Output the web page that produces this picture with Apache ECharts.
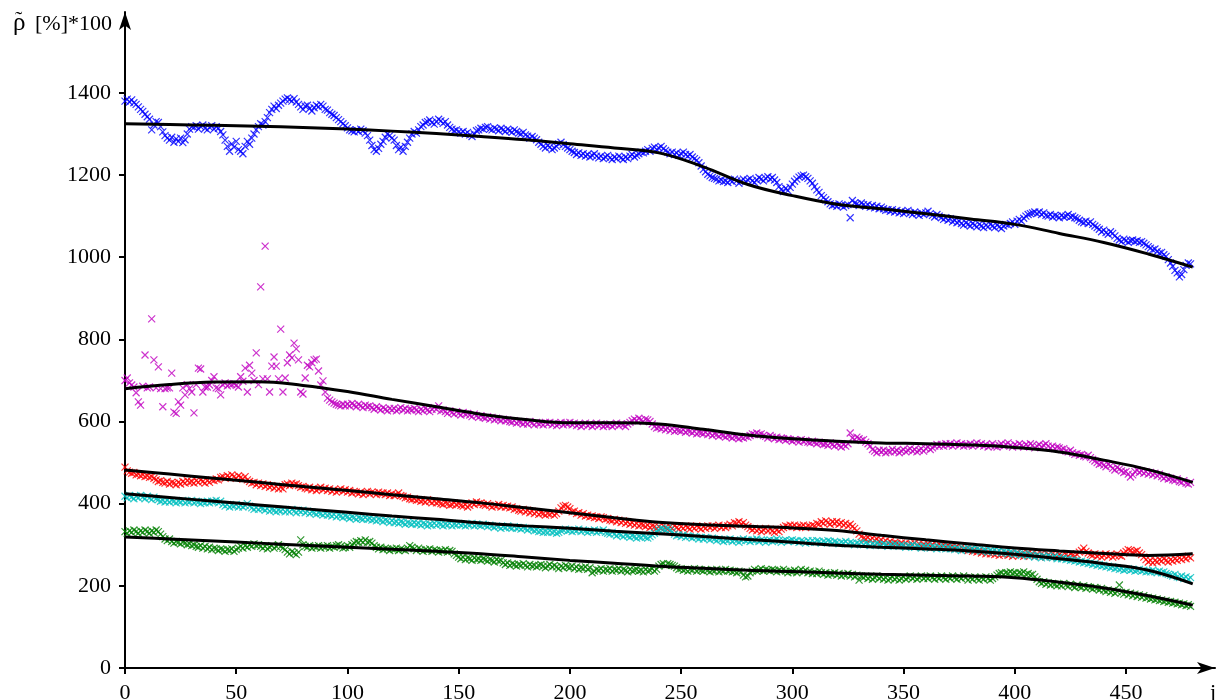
<!DOCTYPE html>
<html>
<head>
<meta charset="utf-8">
<script src="https://cdn.jsdelivr.net/npm/echarts@6/dist/echarts.min.js"></script>
<style>
html, body { margin: 0; padding: 0; background: #fff; }
#chart { width: 1219px; height: 700px; }
</style>
</head>
<body>
<div id="chart"></div>
<script>
// one value per j = 0..479
const blueVals = [
	1380, 1385, 1378, 1383, 1376, 1372, 1366, 1360, 1355, 1348,
	1342, 1336, 1310, 1322, 1330, 1328, 1318, 1305, 1296, 1290,
	1285, 1292, 1280, 1288, 1282, 1290, 1279, 1286, 1300, 1312,
	1318, 1316, 1320, 1312, 1318, 1322, 1314, 1310, 1316, 1320,
	1312, 1318, 1314, 1306, 1298, 1285, 1270, 1258, 1276, 1268,
	1282, 1262, 1258, 1252, 1270, 1282, 1275, 1290, 1300, 1310,
	1318, 1325, 1322, 1330, 1340, 1352, 1360, 1368, 1362, 1370,
	1375, 1380, 1385, 1388, 1384, 1380, 1386, 1378, 1372, 1366,
	1360, 1368, 1370, 1362, 1356, 1364, 1370, 1366, 1372, 1368,
	1360, 1358, 1352, 1348, 1345, 1340, 1335, 1330, 1325, 1320,
	1315, 1310, 1308, 1305, 1310, 1306, 1312, 1308, 1302, 1296,
	1285, 1272, 1262, 1258, 1265, 1275, 1282, 1292, 1300, 1296,
	1290, 1285, 1272, 1262, 1268, 1258, 1270, 1280, 1290, 1300,
	1306, 1302, 1310, 1318, 1322, 1328, 1330, 1334, 1328, 1324,
	1330, 1336, 1332, 1326, 1330, 1322, 1316, 1312, 1308, 1310,
	1305, 1302, 1306, 1300, 1304, 1298, 1294, 1300, 1308, 1310,
	1314, 1312, 1316, 1318, 1312, 1310, 1315, 1312, 1308, 1314,
	1310, 1306, 1312, 1308, 1304, 1310, 1306, 1302, 1300, 1304,
	1298, 1295, 1290, 1294, 1290, 1286, 1280, 1275, 1270, 1266,
	1272, 1268, 1262, 1266, 1270, 1276, 1280, 1274, 1270, 1266,
	1262, 1258, 1255, 1250, 1254, 1248, 1252, 1246, 1250, 1244,
	1248, 1252, 1246, 1242, 1246, 1240, 1244, 1248, 1242, 1238,
	1244, 1240, 1246, 1242, 1238, 1244, 1240, 1246, 1250, 1244,
	1248, 1252, 1256, 1254, 1258, 1262, 1258, 1265, 1268, 1262,
	1266, 1270, 1264, 1260, 1256, 1252, 1256, 1250, 1254, 1248,
	1252, 1256, 1250, 1246, 1250, 1244, 1240, 1236, 1230, 1222,
	1214, 1208, 1202, 1198, 1194, 1192, 1190, 1186, 1188, 1184,
	1186, 1182, 1188, 1184, 1190, 1186, 1180, 1186, 1190, 1184,
	1188, 1192, 1186, 1182, 1188, 1194, 1190, 1186, 1192, 1196,
	1190, 1194, 1188, 1182, 1172, 1165, 1160, 1168, 1162, 1170,
	1178, 1185, 1190, 1195, 1198, 1200, 1196, 1192, 1186, 1180,
	1172, 1164, 1158, 1150, 1145, 1140, 1135, 1130, 1126, 1128,
	1124, 1130, 1126, 1122, 1126, 1128, 1096, 1138, 1132, 1130,
	1126, 1132, 1128, 1124, 1128, 1122, 1126, 1120, 1124, 1118,
	1122, 1118, 1114, 1116, 1112, 1116, 1110, 1114, 1108, 1112,
	1106, 1110, 1114, 1108, 1104, 1110, 1106, 1102, 1108, 1104,
	1108, 1112, 1106, 1102, 1098, 1104, 1100, 1096, 1092, 1096,
	1090, 1094, 1086, 1090, 1084, 1088, 1082, 1078, 1084, 1080,
	1076, 1082, 1078, 1074, 1080, 1076, 1072, 1078, 1074, 1080,
	1076, 1072, 1078, 1074, 1070, 1076, 1080, 1078, 1082, 1086,
	1080, 1088, 1092, 1088, 1095, 1100, 1104, 1106, 1108, 1110,
	1106, 1110, 1104, 1108, 1102, 1100, 1104, 1098, 1102, 1100,
	1096, 1102, 1098, 1100, 1104, 1098, 1100, 1096, 1094, 1090,
	1086, 1084, 1088, 1082, 1086, 1080, 1076, 1072, 1068, 1062,
	1066, 1060, 1056, 1062, 1058, 1052, 1046, 1042, 1038, 1044,
	1040, 1036, 1040, 1042, 1038, 1040, 1036, 1038, 1034, 1030,
	1026, 1022, 1018, 1020, 1014, 1010, 1012, 1006, 1002, 994,
	986, 978, 968, 962, 952, 958, 970, 980, 986, 984
];

const magentaVals = [
	700, 706, 694, 689, 684, 670, 648, 640, 686, 762,
	682, 684, 850, 750, 682, 733, 680, 636, 680, 682,
	682, 718, 623, 620, 648, 640, 682, 665, 690, 680,
	672, 621, 690, 730, 728, 672, 684, 684, 689, 700,
	709, 682, 680, 665, 689, 694, 687, 691, 690, 692,
	688, 684, 709, 698, 730, 672, 737, 718, 700, 767,
	690, 928, 704, 1027, 704, 672, 735, 757, 735, 704,
	825, 672, 706, 743, 762, 755, 791, 777, 750, 672,
	667, 706, 737, 733, 743, 750, 752, 723, 689, 699,
	672, 657, 652, 648, 645, 642, 640, 638, 642, 638,
	642, 638, 644, 640, 636, 642, 638, 634, 640, 636,
	638, 634, 630, 636, 632, 628, 634, 630, 626, 632,
	628, 632, 626, 630, 634, 628, 632, 626, 630, 628,
	632, 628, 624, 630, 626, 632, 628, 624, 630, 634,
	630, 638, 626, 628, 624, 620, 626, 622, 618, 624,
	620, 616, 622, 618, 620, 616, 612, 618, 614, 610,
	614, 610, 608, 612, 606, 610, 604, 608, 606, 602,
	606, 602, 604, 600, 598, 602, 596, 600, 598, 594,
	598, 594, 600, 596, 592, 598, 594, 596, 592, 598,
	594, 598, 592, 596, 590, 594, 598, 592, 596, 594,
	598, 592, 596, 590, 594, 588, 592, 596, 590, 594,
	588, 592, 596, 590, 594, 588, 592, 590, 594, 588,
	592, 596, 590, 594, 592, 588, 594, 598, 602, 606,
	602, 608, 604, 600, 606, 604, 600, 594, 588, 584,
	586, 582, 586, 580, 584, 578, 582, 576, 580, 578,
	576, 580, 574, 578, 576, 572, 576, 570, 574, 572,
	570, 574, 568, 572, 566, 570, 568, 564, 568, 566,
	562, 566, 564, 560, 564, 562, 558, 562, 560, 564,
	562, 566, 570, 568, 572, 568, 570, 566, 564, 560,
	566, 562, 558, 562, 556, 560, 558, 554, 558, 556,
	552, 556, 554, 550, 556, 552, 554, 550, 548, 552,
	550, 546, 550, 548, 544, 546, 542, 548, 544, 540,
	546, 542, 538, 544, 540, 546, 572, 560, 556, 562,
	558, 554, 556, 550, 546, 540, 532, 528, 524, 530,
	526, 530, 524, 528, 526, 532, 526, 530, 524, 528,
	532, 526, 530, 534, 528, 532, 526, 530, 534, 528,
	534, 538, 532, 536, 540, 544, 540, 544, 540, 546,
	542, 546, 540, 544, 548, 542, 546, 540, 544, 542,
	546, 540, 544, 548, 542, 546, 540, 544, 538, 542,
	546, 540, 538, 542, 546, 540, 544, 548, 542, 538,
	544, 540, 546, 542, 538, 544, 540, 546, 542, 536,
	540, 544, 538, 542, 546, 540, 536, 540, 534, 538,
	536, 532, 534, 528, 526, 530, 524, 520, 522, 518,
	520, 516, 514, 518, 512, 508, 504, 500, 496, 498,
	494, 490, 496, 492, 486, 482, 488, 484, 480, 476,
	478, 472, 465, 470, 478, 482, 476, 480, 474, 478,
	472, 476, 470, 474, 468, 472, 466, 462, 466, 460,
	462, 458, 456, 460, 454, 452, 456, 450, 448, 452
];

const redVals = [
	489, 480, 477, 474, 476, 470, 472, 468, 470, 466,
	468, 464, 466, 462, 458, 454, 456, 452, 450, 454,
	448, 452, 450, 446, 452, 448, 454, 450, 456, 452,
	454, 450, 456, 452, 458, 454, 450, 456, 452, 458,
	456, 460, 458, 464, 466, 462, 468, 464, 470, 466,
	462, 468, 464, 460, 466, 458, 454, 450, 452, 446,
	450, 444, 448, 442, 446, 440, 444, 438, 442, 436,
	440, 436, 446, 448, 444, 450, 446, 448, 444, 440,
	442, 438, 436, 440, 434, 438, 432, 436, 440, 434,
	438, 432, 436, 430, 434, 428, 432, 436, 430, 434,
	428, 432, 426, 430, 428, 424, 428, 422, 426, 430,
	424, 428, 426, 422, 428, 424, 426, 422, 426, 420,
	424, 420, 422, 426, 420, 418, 414, 416, 412, 410,
	412, 408, 410, 406, 408, 404, 410, 406, 402, 406,
	402, 404, 400, 398, 402, 400, 396, 398, 402, 398,
	400, 396, 394, 398, 392, 396, 402, 398, 404, 400,
	402, 398, 396, 400, 396, 392, 396, 394, 398, 392,
	396, 392, 394, 390, 392, 386, 388, 384, 382, 386,
	380, 384, 378, 382, 376, 380, 374, 378, 376, 372,
	376, 374, 378, 372, 376, 382, 390, 394, 396, 392,
	388, 380, 382, 376, 378, 372, 376, 370, 372, 368,
	370, 366, 368, 364, 368, 366, 362, 364, 360, 358,
	362, 356, 360, 354, 358, 352, 356, 350, 354, 348,
	352, 346, 350, 348, 344, 348, 342, 346, 344, 340,
	344, 340, 346, 342, 338, 344, 340, 346, 342, 338,
	344, 340, 346, 342, 338, 344, 340, 346, 342, 338,
	344, 340, 346, 342, 346, 340, 344, 348, 342, 346,
	342, 346, 350, 346, 354, 352, 356, 350, 354, 348,
	344, 340, 336, 340, 334, 338, 332, 336, 340, 334,
	338, 334, 330, 336, 332, 338, 342, 346, 344, 348,
	344, 348, 342, 346, 344, 348, 342, 346, 344, 348,
	346, 352, 350, 356, 352, 358, 354, 350, 356, 352,
	356, 350, 354, 348, 352, 346, 350, 344, 340, 334,
	326, 320, 316, 314, 318, 312, 316, 310, 314, 308,
	312, 306, 310, 304, 308, 302, 306, 304, 300, 304,
	300, 304, 298, 302, 300, 304, 298, 302, 296, 300,
	298, 302, 296, 300, 294, 298, 302, 296, 300, 294,
	298, 294, 296, 292, 296, 290, 294, 288, 290, 286,
	288, 284, 286, 282, 286, 280, 284, 278, 282, 278,
	280, 276, 280, 274, 278, 276, 280, 274, 278, 272,
	276, 280, 274, 278, 272, 276, 280, 274, 278, 272,
	276, 272, 278, 274, 270, 276, 272, 278, 274, 270,
	276, 272, 270, 276, 272, 278, 274, 272, 276, 282,
	286, 292, 284, 280, 276, 274, 278, 272, 276, 270,
	274, 278, 272, 276, 270, 274, 278, 274, 272, 280,
	284, 288, 286, 282, 284, 286, 280, 276, 270, 264,
	258, 262, 256, 262, 258, 264, 260, 266, 262, 258,
	264, 260, 266, 262, 268, 264, 270, 266, 272, 268
];

const cyanVals = [
	418, 414, 420, 416, 412, 418, 414, 420, 416, 412,
	418, 414, 410, 416, 412, 410, 406, 408, 404, 408,
	404, 408, 406, 402, 406, 404, 408, 402, 406, 404,
	408, 402, 406, 404, 400, 404, 402, 406, 402, 406,
	404, 408, 402, 406, 398, 394, 398, 392, 396, 394,
	398, 392, 396, 392, 396, 400, 394, 390, 386, 390,
	386, 390, 388, 384, 388, 382, 386, 384, 380, 384,
	382, 386, 380, 384, 380, 386, 382, 378, 384, 380,
	384, 378, 382, 376, 380, 378, 374, 378, 376, 372,
	376, 372, 374, 370, 374, 368, 372, 370, 366, 370,
	368, 364, 368, 366, 362, 366, 364, 362, 366, 362,
	364, 360, 362, 358, 362, 360, 356, 360, 358, 354,
	358, 354, 356, 352, 356, 354, 350, 354, 352, 350,
	354, 350, 352, 348, 352, 350, 346, 350, 348, 352,
	348, 352, 350, 346, 350, 348, 352, 346, 350, 348,
	352, 348, 350, 346, 350, 348, 352, 346, 350, 348,
	346, 350, 348, 344, 348, 346, 342, 346, 344, 340,
	344, 342, 346, 342, 340, 344, 340, 342, 338, 342,
	340, 336, 340, 338, 334, 336, 332, 334, 330, 332,
	330, 334, 330, 332, 328, 330, 334, 336, 338, 334,
	336, 332, 336, 334, 338, 332, 336, 334, 330, 334,
	332, 336, 330, 334, 332, 336, 330, 328, 326, 330,
	326, 322, 326, 324, 320, 324, 322, 318, 322, 320,
	316, 320, 318, 322, 318, 316, 320, 324, 328, 332,
	336, 340, 338, 336, 340, 336, 332, 326, 322, 324,
	320, 324, 318, 322, 320, 316, 320, 318, 314, 318,
	314, 318, 316, 312, 316, 314, 310, 314, 312, 308,
	312, 310, 314, 308, 312, 310, 306, 310, 314, 310,
	312, 308, 312, 310, 314, 308, 312, 310, 306, 310,
	312, 308, 310, 314, 310, 306, 310, 312, 308, 310,
	312, 308, 310, 306, 310, 308, 304, 310, 306, 310,
	306, 310, 308, 304, 308, 306, 310, 308, 304, 308,
	306, 302, 306, 304, 308, 302, 306, 304, 300, 304,
	302, 306, 300, 304, 302, 298, 302, 300, 304, 300,
	298, 302, 300, 296, 300, 298, 302, 298, 296, 300,
	298, 294, 298, 296, 300, 294, 298, 296, 292, 296,
	294, 298, 292, 296, 294, 290, 294, 292, 296, 290,
	294, 290, 292, 288, 292, 290, 286, 290, 288, 292,
	288, 290, 286, 290, 288, 284, 288, 286, 282, 286,
	284, 288, 282, 286, 280, 284, 282, 278, 282, 280,
	276, 280, 278, 274, 278, 276, 272, 276, 274, 270,
	274, 272, 268, 272, 270, 274, 270, 268, 272, 266,
	270, 266, 268, 264, 266, 262, 264, 260, 262, 258,
	260, 256, 258, 254, 256, 252, 254, 250, 252, 248,
	250, 246, 248, 244, 246, 242, 244, 240, 242, 238,
	240, 242, 238, 240, 236, 238, 240, 236, 238, 234,
	236, 234, 238, 234, 232, 236, 232, 234, 230, 228,
	226, 224, 228, 222, 220, 224, 218, 222, 216, 220
];

const greenVals = [
	332, 328, 334, 330, 336, 332, 328, 334, 330, 336,
	332, 328, 334, 330, 336, 332, 326, 320, 314, 310,
	314, 308, 304, 308, 306, 302, 306, 304, 300, 302,
	298, 300, 296, 294, 298, 292, 296, 290, 294, 288,
	292, 290, 286, 290, 288, 284, 288, 286, 290, 284,
	288, 292, 296, 292, 298, 294, 300, 296, 302, 298,
	300, 296, 292, 296, 290, 294, 298, 292, 296, 300,
	296, 292, 288, 282, 278, 284, 280, 276, 282, 312,
	300, 296, 294, 298, 292, 296, 294, 298, 292, 296,
	294, 298, 292, 296, 294, 298, 300, 296, 292, 294,
	298, 294, 300, 304, 308, 306, 310, 306, 312, 306,
	308, 304, 298, 294, 290, 294, 288, 292, 290, 286,
	290, 288, 292, 286, 290, 288, 286, 292, 298, 294,
	290, 286, 292, 288, 284, 288, 286, 290, 284, 288,
	286, 282, 286, 284, 288, 282, 286, 284, 278, 274,
	270, 266, 270, 264, 268, 266, 262, 268, 264, 266,
	262, 266, 264, 260, 264, 262, 258, 264, 260, 262,
	256, 252, 256, 250, 254, 252, 248, 252, 250, 254,
	250, 246, 252, 248, 250, 246, 250, 252, 248, 244,
	248, 252, 246, 250, 246, 242, 248, 244, 250, 246,
	244, 248, 242, 246, 240, 244, 242, 246, 240, 244,
	232, 236, 240, 238, 242, 236, 240, 238, 242, 236,
	240, 238, 242, 236, 240, 238, 234, 240, 236, 238,
	240, 236, 238, 234, 240, 236, 238, 242, 236, 240,
	248, 252, 254, 250, 254, 252, 250, 248, 244, 240,
	242, 238, 240, 236, 240, 238, 242, 236, 240, 238,
	236, 240, 238, 234, 238, 236, 240, 234, 238, 236,
	240, 236, 238, 234, 236, 232, 236, 234, 226, 222,
	224, 232, 236, 240, 236, 238, 242, 236, 240, 238,
	236, 240, 238, 234, 238, 236, 240, 236, 232, 236,
	234, 238, 232, 236, 240, 234, 238, 232, 236, 230,
	234, 230, 236, 232, 228, 232, 226, 230, 228, 232,
	226, 230, 224, 228, 226, 230, 224, 228, 222, 226,
	214, 224, 220, 224, 218, 222, 216, 220, 224, 218,
	222, 216, 220, 214, 218, 222, 216, 220, 214, 218,
	222, 216, 220, 224, 218, 222, 216, 220, 224, 218,
	222, 218, 224, 220, 216, 222, 218, 224, 220, 216,
	222, 218, 224, 220, 216, 222, 218, 224, 220, 214,
	220, 216, 222, 218, 214, 220, 216, 222, 218, 214,
	218, 222, 226, 230, 232, 228, 232, 230, 234, 230,
	232, 228, 232, 230, 234, 228, 230, 226, 228, 222,
	216, 210, 206, 210, 204, 208, 202, 206, 204, 200,
	204, 200, 206, 202, 198, 204, 200, 196, 202, 198,
	196, 200, 194, 198, 196, 192, 196, 194, 190, 194,
	190, 186, 190, 184, 188, 182, 186, 202, 184, 180,
	184, 178, 182, 176, 180, 174, 178, 172, 176, 170,
	172, 168, 170, 166, 168, 164, 166, 162, 164, 160,
	162, 158, 160, 156, 158, 154, 156, 152, 154, 150
];

// smooth fitted curves, sampled every 20 j
const trendJ = [0, 20, 40, 60, 80, 100, 120, 140, 160, 180, 200, 220, 240, 260, 280, 300, 320, 340, 360, 380, 400, 420, 440, 460, 480];
const blueTrend = [1325, 1323, 1321, 1319, 1316, 1312, 1307, 1301, 1294, 1286, 1276, 1266, 1254, 1220, 1177, 1150, 1129, 1118, 1106, 1093, 1080, 1058, 1036, 1008, 976];
const magentaTrend = [680, 690, 696, 697, 688, 673, 654, 636, 618, 605, 597, 597, 594, 581, 567, 558, 552, 548, 546, 543, 537, 526, 506, 483, 452];
const redTrend = [482, 472, 462, 452, 442, 432, 422, 412, 402, 390, 378, 366, 355, 349, 345, 341, 335, 323, 312, 302, 292, 285, 279, 274, 278];
const cyanTrend = [424, 415, 406, 397, 388, 379, 370, 362, 353, 346, 340, 333, 327, 320, 313, 306, 299, 294, 290, 285, 277, 266, 254, 238, 205];
const greenTrend = [319, 314, 309, 304, 299, 294, 289, 284, 278, 270, 262, 255, 248, 243, 238, 235, 231, 228, 226, 224, 220, 209, 195, 176, 153];

const xTicks = [0, 50, 100, 150, 200, 250, 300, 350, 400, 450];
const yTicks = [0, 200, 400, 600, 800, 1000, 1200, 1400];

const chart = echarts.init(document.getElementById('chart'));
const font = 'Liberation Serif';
const crossSymbol = 'path://M0,0L10,10M10,0L0,10';

function markers(vals, color) {
	return {
		type: 'scatter',
		data: vals.map((v, j) => [j, v]),
		symbol: crossSymbol,
		symbolSize: 7,
		itemStyle: { color: 'rgba(0,0,0,0)', borderColor: color, borderWidth: 1.2 },
		z: 2,
		silent: true,
	};
}

function trend(vals) {
	return {
		type: 'line',
		data: trendJ.map((j, i) => [j, vals[i]]),
		smooth: 0.4,
		showSymbol: false,
		lineStyle: { color: '#000', width: 3 },
		z: 5,
		silent: true,
	};
}

chart.setOption({
	animation: false,
	backgroundColor: '#fff',
	grid: { left: 125, right: 4, top: 12, bottom: 32, containLabel: false, outerBoundsMode: 'none' },
	xAxis: {
		type: 'value',
		min: 0,
		max: 490,
		axisLine: { lineStyle: { color: '#000', width: 2 }, symbol: ['none', 'arrow'], symbolSize: [9, 18] },
		axisTick: { customValues: xTicks, length: 6, lineStyle: { color: '#000', width: 2 } },
		axisLabel: { customValues: xTicks, margin: 14, fontFamily: font, fontSize: 22, color: '#000' },
		splitLine: { show: false },
	},
	yAxis: {
		type: 'value',
		min: 0,
		max: 1597,
		axisLine: { show: true, lineStyle: { color: '#000', width: 2 }, symbol: ['none', 'arrow'], symbolSize: [9, 18] },
		axisTick: { show: true, customValues: yTicks, length: 6, lineStyle: { color: '#000', width: 2 } },
		axisLabel: {
			customValues: yTicks,
			margin: 14,
			fontFamily: font,
			fontSize: 22,
			color: '#000',
			formatter: (v) => String(v),
		},
		splitLine: { show: false },
	},
	graphic: [
		{ type: 'text', x: 13, y: 36, style: { text: 'ρ', font: '25px "Liberation Serif"', fill: '#000', textVerticalAlign: 'bottom' } },
		{ type: 'text', x: 15, y: 31, style: { text: '˜', font: '22px "Liberation Serif"', fill: '#000', textVerticalAlign: 'bottom' } },
		{ type: 'text', x: 35, y: 35, style: { text: '[%]*100', font: '22px "Liberation Serif"', fill: '#000', textVerticalAlign: 'bottom' } },
		{ type: 'text', x: 1210, y: 682, style: { text: 'j', font: '22px "Liberation Serif"', fill: '#000' } },
	],
	series: [
		markers(blueVals, '#0000ff'),
		markers(magentaVals, '#c000c0'),
		markers(redVals, '#ff0000'),
		markers(cyanVals, '#00bfbf'),
		markers(greenVals, '#008000'),
		trend(blueTrend),
		trend(magentaTrend),
		trend(redTrend),
		trend(cyanTrend),
		trend(greenTrend),
	],
});
</script>
</body>
</html>
